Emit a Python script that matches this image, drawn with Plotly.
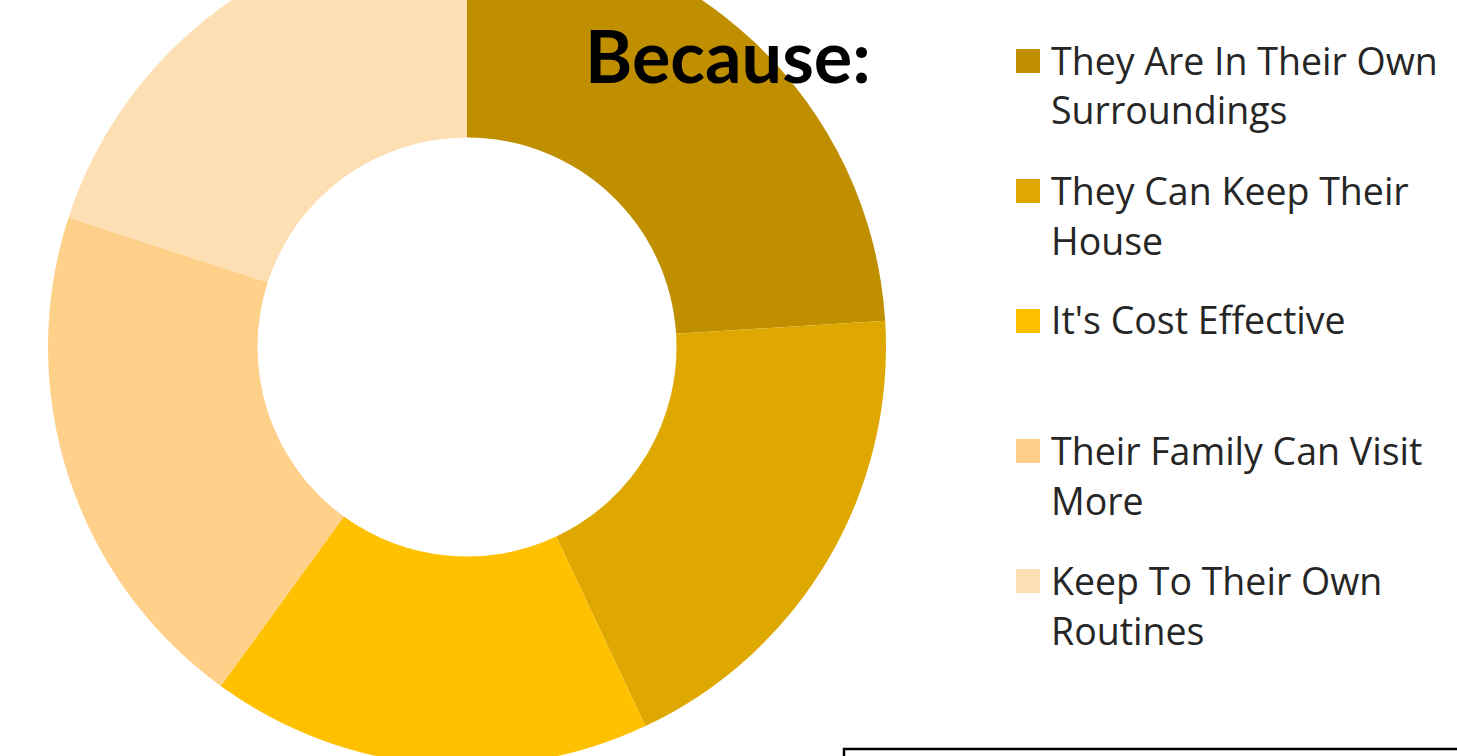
import plotly.graph_objects as go

# ---- data ----
labels = [
    "They Are In Their Own<br>Surroundings",
    "They Can Keep Their<br>House",
    "It's Cost Effective",
    "Their Family Can Visit<br>More",
    "Keep To Their Own<br>Routines",
]
values = [24, 19, 17, 20, 20]
colors = ["#BF8F00", "#DFA800", "#FFC000", "#FFD08A", "#FEDFB4"]
title_text = "Because:"

# ---- layout geometry (page pixels) ----
W, H = 1457, 900
OFF = 72  # part of the figure above the visible window


def px(x):
    return x / W


def py(y):
    return 1 - (y + OFF) / H


cx, cy, r = 467, 347, 419

fig = go.Figure()
fig.add_trace(go.Pie(
    labels=labels,
    values=values,
    hole=0.5,
    sort=False,
    direction="clockwise",
    rotation=0,
    marker=dict(colors=colors, line=dict(width=0)),
    textinfo="none",
    showlegend=False,
    domain=dict(x=[px(cx - r), px(cx + r)], y=[py(cy + r), py(cy - r)]),
))

shapes = []
annotations = []

# title (last visible line)
annotations.append(dict(
    text="<b>" + title_text + "</b>", x=px(728), y=py(55), xref="paper", yref="paper",
    xanchor="center", yanchor="middle", showarrow=False,
    font=dict(family="Lato", size=72, color="#000000"),
))

# legend
leg_top = 61
leg_step = 130
line_step = 50
sq = 24
for i, (lab, col) in enumerate(zip(labels, colors)):
    yc = leg_top + i * leg_step
    shapes.append(dict(
        type="rect", xref="paper", yref="paper",
        x0=px(1016), x1=px(1016 + sq), y0=py(yc - sq / 2), y1=py(yc + sq / 2),
        fillcolor=col, line=dict(width=0),
    ))
    for j, part in enumerate(lab.split("<br>")):
        annotations.append(dict(
            text=part, x=px(1049), y=py(yc - 1 + j * line_step), xref="paper", yref="paper",
            xanchor="left", yanchor="middle", showarrow=False,
            font=dict(family="Open Sans", size=37.5, color="#262626"),
        ))

# box at bottom right
shapes.append(dict(
    type="rect", xref="paper", yref="paper",
    x0=px(844), x1=px(1470), y0=py(790), y1=py(749),
    line=dict(color="#000000", width=2.5), fillcolor="rgba(0,0,0,0)",
))

fig.update_layout(
    width=W, height=H,
    margin=dict(l=0, r=0, t=0, b=0),
    paper_bgcolor="#FFFFFF",
    plot_bgcolor="#FFFFFF",
    showlegend=False,
    shapes=shapes,
    annotations=annotations,
)

post = (
    "document.documentElement.style.overflow='hidden';"
    "document.body.style.margin='0';document.body.style.overflow='hidden';"
    "var gd=document.getElementById('{plot_id}');gd.style.marginTop='-" + str(OFF) + "px';"
)
fig.write_html("out.html", post_script=post)
